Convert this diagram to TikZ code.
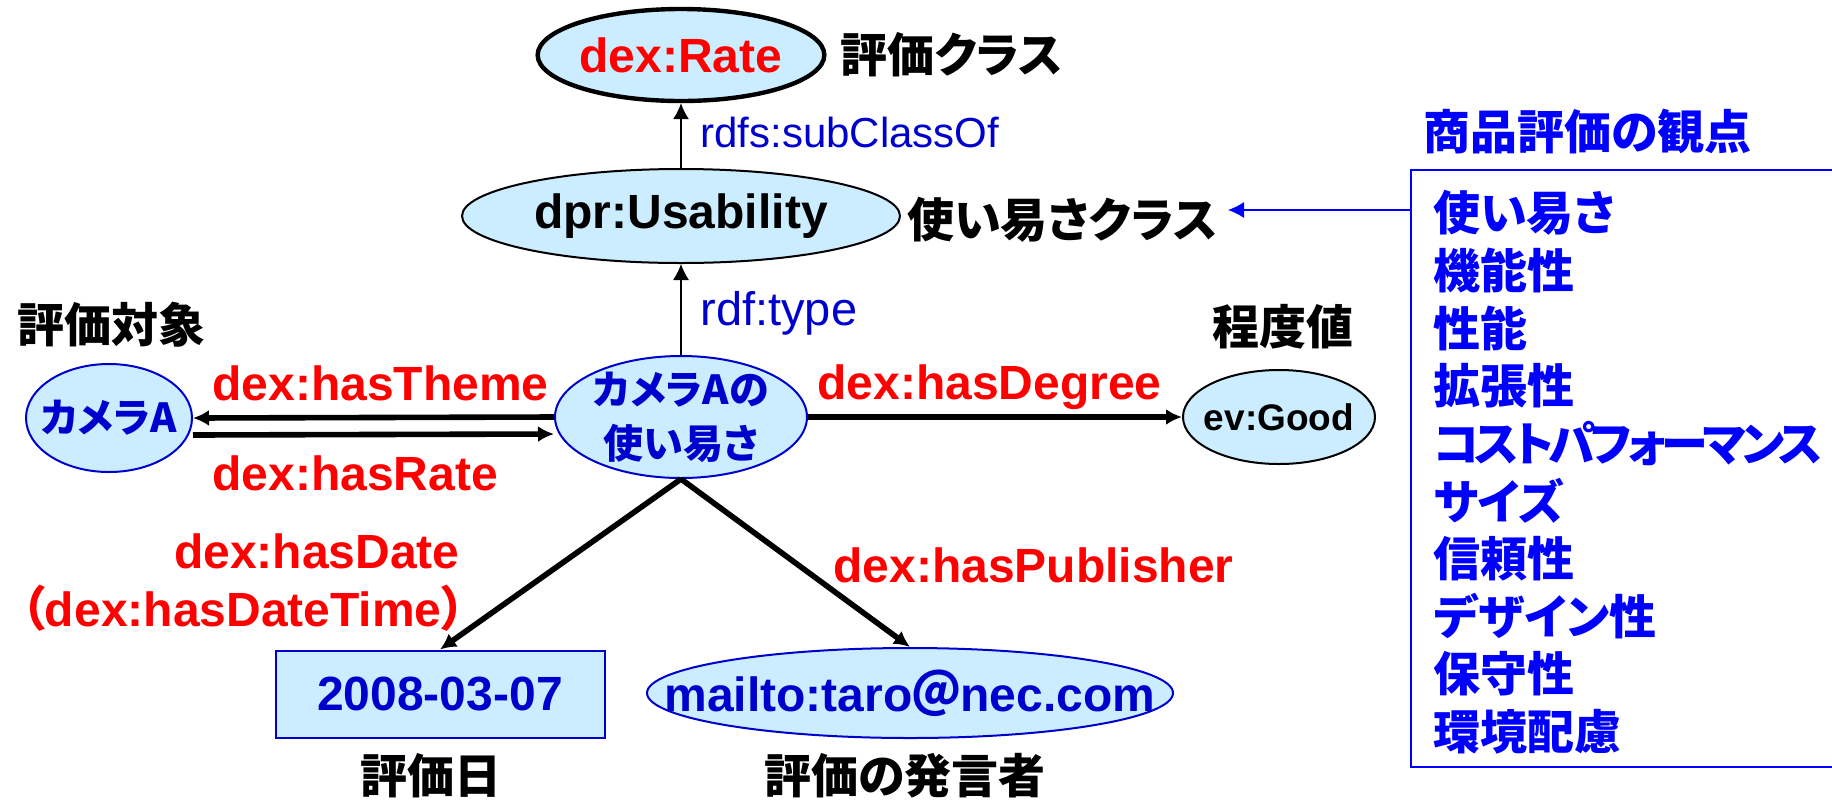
\documentclass[tikz,border=0pt]{standalone}
\usepackage{fontspec}
\setmainfont{Liberation Sans}
\newfontfamily\jp{Noto Sans CJK JP}[BoldFont={Noto Sans CJK JP Black},RawFeature=+palt]
\usetikzlibrary{shapes.geometric,arrows.meta}
\definecolor{lblue}{HTML}{CCECFF}
\definecolor{nblue}{HTML}{0000CC}
\definecolor{pblue}{HTML}{0000FF}
\newcommand{\cbox}[1]{\makebox[0pt]{#1}}

\begin{document}
\begin{tikzpicture}[x=0.5pt,y=-0.5pt,>={Latex[length=8pt,width=8pt]},
  elli/.style={ellipse,draw,fill=lblue,inner sep=0pt,line width=1pt},
  bnode/.style={elli,draw=nblue,text=nblue,font=\jp\bfseries\fontsize{20}{27}\selectfont},
  prop/.style={text=red,inner sep=0pt,font=\bfseries\fontsize{24}{28}\selectfont},
  note/.style={inner sep=0pt,font=\jp\bfseries\fontsize{23.5}{27}\selectfont},
  rel/.style={->,line width=2.8pt},
  sub/.style={->,line width=0.6pt}]

\useasboundingbox (0,0) rectangle (1832,799);

% classes and resources
\node[elli,line width=2.2pt,minimum width=143pt,minimum height=46pt,text=red,font=\bfseries\fontsize{24}{28}\selectfont] (rate) at (681,55) {dex:Rate};
\node[elli,minimum width=219pt,minimum height=47pt,font=\bfseries\fontsize{24}{28}\selectfont] (usab) at (681,216) {dpr:Usability};
\node[bnode,minimum width=126pt,minimum height=61pt,inner ysep=-2pt,align=center] (use) at (681,417) {カメラAの\\使い易さ};
\node[bnode,minimum width=83pt,minimum height=54pt] (cam) at (109,418) {\cbox{カメラA}};
\node[elli,minimum width=96pt,minimum height=47pt,font=\bfseries\fontsize{18.5}{22}\selectfont] (good) at (1279,417) {\cbox{ev:Good}};
\node[draw=nblue,fill=lblue,line width=1pt,minimum width=164.5pt,minimum height=43.5pt,text=nblue,font=\bfseries\fontsize{24}{28}\selectfont] (date) at (440,694) {2008-03-07};
\node[elli,draw=nblue,minimum width=263pt,minimum height=45pt,text=nblue,font=\bfseries\fontsize{24}{28}\selectfont] (mail) at (910,693) {\cbox{mailto:taro{\jp ＠}nec.com}};

% properties
\draw[sub] (usab) -- (rate);
\draw[sub] (use) -- (usab);
\draw[rel] (use.west) -- (cam.east);
\draw[rel] ([yshift=-8.5pt]cam.east) -- ([yshift=-8.5pt]use.west);
\draw[rel] (use) -- (good);
\draw[rel] (use.south) -- (date.north);
\draw[rel] (use.south) -- (mail.north);

\node[prop,anchor=base west] (pTheme) at (212,400) {dex:hasTheme};
\node[prop,anchor=base west] (pRate) at (212,490) {dex:hasRate};
\node[prop,anchor=base west] (pDeg) at (817,399) {dex:hasDegree};
\node[prop,anchor=base east] (pDate) at (460,568) {dex:hasDate};
\node[prop,anchor=base east] (pDT) at (466,626) {{\jp （}dex:hasDateTime{\jp ）}};
\node[prop,anchor=base west] (pPub) at (833,582) {dex:hasPublisher};
\node[anchor=base west,inner sep=0pt,text=nblue,font=\fontsize{21}{25}\selectfont] (pSub) at (700,147) {rdfs:subClassOf};
\node[anchor=base west,inner sep=0pt,text=nblue,font=\fontsize{23.5}{28}\selectfont] (pType) at (700,325) {rdf:type};

% captions
\node[note,anchor=west] (clsR) at (840,55) {評価クラス};
\node[note,anchor=west] (clsU) at (907,220) {使い易さクラス};
\node[note,anchor=west] (tgt) at (17,325) {評価対象};
\node[note,anchor=west] (deg) at (1212,327) {程度値};
\node[note] (dlab) at (431,776) {評価日};
\node[note] (plab) at (905,776) {評価の発言者};

% viewpoints
\node[note,text=pblue,anchor=west] (ptitle) at (1423,132) {商品評価の観点};
\node[draw=pblue,line width=0.8pt,anchor=north west,minimum width=260pt,minimum height=298.5pt] (frame) at (1410,169) {};
\foreach \t [count=\i] in {使い易さ,機能性,性能,拡張性,{\addfontfeatures{LetterSpace=-10}コストパフォーマンス},サイズ,信頼性,デザイン性,保守性,環境配慮}
  \node[note,text=pblue,anchor=west] (pt\i) at (1433,{213+57.6*(\i-1)}) {\t};
\coordinate (tipU) at (1228,210);
\draw[->,draw=pblue,line width=0.6pt] ([yshift=-20.5pt]frame.north west) -- (tipU);

\end{tikzpicture}
\end{document}
